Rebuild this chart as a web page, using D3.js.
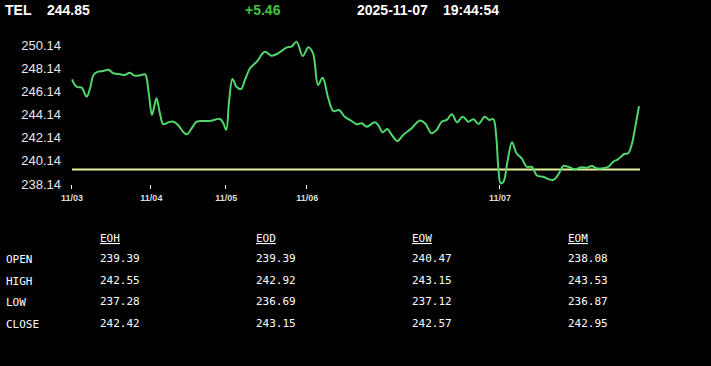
<!DOCTYPE html>
<html>
<head>
<meta charset="utf-8">
<script src="https://cdn.jsdelivr.net/npm/d3@7"></script>
<style>
  html, body { margin: 0; padding: 0; background: #000; }
  svg { display: block; }
</style>
</head>
<body>
<svg width="711" height="366"></svg>
<script>
// header
const symbol = 'TEL';
const last = '244.85';
const change = '+5.46';
const stamp = ['2025-11-07', '19:44:54'];

// price line: t is session position (0..100), v is price
const t = [0, 0.8, 1.7, 2.6, 3.2, 3.8, 4.6, 5.5, 6.4, 7.3, 8.5, 9.3, 10.2, 11.1, 12.3, 12.9, 13.5, 14.1, 14.5, 14.9,
  15.5, 16.1, 17.0, 17.9, 18.7, 19.8, 20.3, 21.1, 22.0, 23.2, 24.3, 26.1, 26.7, 27.2, 27.7, 28.3, 29.0, 29.8, 30.5, 31.4,
  32.6, 34.0, 35.2, 36.4, 37.9, 38.7, 39.6, 40.7, 41.7, 42.5, 43.4, 44.2, 45.2, 46.1, 47.1, 48.1, 49.3, 50.2, 51.1, 52.0,
  53.4, 54.0, 54.8, 55.6, 56.4, 57.4, 58.4, 59.9, 61.3, 62.3, 63.4, 64.3, 65.2, 66.1, 67.0, 67.9, 68.9, 69.9, 70.8, 71.7,
  72.8, 73.6, 74.3, 74.8, 75.2, 75.6, 76.1, 76.8, 77.6, 78.4, 79.3, 80.2, 81.1, 82.0, 83.1, 84.0, 84.9, 85.8, 86.6, 87.5,
  88.7, 89.9, 90.8, 91.7, 92.5, 93.7, 94.6, 95.5, 96.3, 97.4, 98.1, 98.7, 99.3, 100];
const v = [247.18, 246.54, 246.46, 245.68, 246.43, 247.55, 247.84, 247.90, 248.01, 247.70, 247.61, 247.55, 247.75, 247.49, 247.55, 247.61, 246.11, 244.10, 244.82, 245.54,
  244.25, 243.30, 243.47, 243.52, 243.23, 242.54, 242.43, 242.95, 243.52, 243.58, 243.58, 243.75, 243.38, 242.80, 245.25, 247.21, 246.54, 246.34, 247.12, 248.13,
  248.70, 249.56, 249.22, 249.43, 249.94, 250.00, 250.43, 249.19, 249.94, 249.43, 246.69, 247.32, 245.54, 244.44, 244.53, 243.95, 243.58, 243.30, 243.38, 243.09,
  243.47, 243.23, 242.60, 242.89, 242.37, 241.85, 242.37, 242.95, 243.61, 243.36, 242.52, 242.80, 243.52, 243.67, 244.16, 243.47, 243.95, 243.52, 243.73, 243.32,
  243.95, 243.67, 243.75, 242.37, 239.50, 238.20, 238.34, 240.07, 241.74, 240.79, 240.36, 239.63, 239.61, 238.87, 238.77, 238.57, 238.49, 238.98, 239.69, 239.63,
  239.41, 239.58, 239.55, 239.69, 239.50, 239.50, 239.63, 240.07, 240.27, 240.73, 240.79, 241.51, 242.95, 244.85];

const prevClose = 239.39;
const yTicks = [238.14, 240.14, 242.14, 244.14, 246.14, 248.14, 250.14];
const dayTicks = [0, 14, 27.2, 41.5, 75.5];
const dayLabels = ['11/03', '11/04', '11/05', '11/06', '11/07'];

// summary table
const periods = ['EOH', 'EOD', 'EOW', 'EOM'];
const fields = ['OPEN', 'HIGH', 'LOW', 'CLOSE'];
const openVals = ['239.39', '239.39', '240.47', '238.08'];
const highVals = ['242.55', '242.92', '243.15', '243.53'];
const lowVals = ['237.28', '236.69', '237.12', '236.87'];
const closeVals = ['242.42', '243.15', '242.57', '242.95'];

const svg = d3.select('svg');

const x = d3.scaleLinear().domain([0, 100]).range([72, 639]);
const y = d3.scaleLinear().domain([238.14, 250.14]).range([184, 45]);

// header line
const head = svg.append('g').attr('font-family', 'Liberation Sans, Arial, sans-serif')
  .attr('font-weight', 'bold').attr('font-size', 14);
head.append('text').attr('x', 5).attr('y', 15).attr('fill', '#fff').text(symbol);
head.append('text').attr('x', 47).attr('y', 15).attr('fill', '#fff').text(last);
head.append('text').attr('x', 245).attr('y', 15).attr('fill', '#3fc23f').text(change);
head.append('text').attr('x', 357).attr('y', 15).attr('fill', '#fff').text(stamp[0]);
head.append('text').attr('x', 443).attr('y', 15).attr('fill', '#fff').text(stamp[1]);

// y labels
svg.append('g').selectAll('text').data(yTicks).enter().append('text')
  .attr('x', 61).attr('y', d => y(d))
  .attr('dy', '0.35em')
  .attr('text-anchor', 'end')
  .attr('font-family', 'Liberation Sans, Arial, sans-serif')
  .attr('font-size', 13)
  .attr('fill', '#e8e8e8')
  .text(d => d.toFixed(2));

// x ticks
const xa = svg.append('g');
xa.selectAll('line').data(dayTicks).enter().append('line')
  .attr('x1', d => Math.round(x(d)) - 0.5).attr('x2', d => Math.round(x(d)) - 0.5)
  .attr('y1', 185).attr('y2', 189)
  .attr('stroke', '#fff').attr('stroke-width', 1);
xa.selectAll('text').data(dayTicks).enter().append('text')
  .attr('x', d => x(d)).attr('y', 201)
  .attr('text-anchor', 'middle')
  .attr('font-family', 'Liberation Sans, Arial, sans-serif')
  .attr('font-weight', 'bold')
  .attr('font-size', 9)
  .attr('fill', '#ddd')
  .text((d, i) => dayLabels[i]);

// previous close line
svg.append('line')
  .attr('x1', x(0)).attr('x2', x(100) + 1)
  .attr('y1', y(prevClose)).attr('y2', y(prevClose))
  .attr('stroke', '#e4f29a').attr('stroke-width', 2);

// price line
const line = d3.line()
  .x((d, i) => x(t[i]))
  .y(d => y(d))
  .curve(d3.curveCatmullRom.alpha(0.5));
svg.append('path').datum(v)
  .attr('d', line)
  .attr('fill', 'none')
  .attr('stroke', '#52d66c')
  .attr('stroke-width', 2);

// table
const tbl = svg.append('g').attr('font-family', 'DejaVu Sans Mono, monospace')
  .attr('font-size', 11).attr('fill', '#fff');
const colX = d3.scalePoint().domain(periods).range([100, 568]);
const rowY = d3.scalePoint().domain(fields).range([263, 328]);
const rows = [openVals, highVals, lowVals, closeVals];

tbl.selectAll('text.hd').data(periods).enter().append('text')
  .attr('class', 'hd')
  .attr('x', d => colX(d)).attr('y', 242)
  .attr('text-decoration', 'underline')
  .text(d => d);
tbl.selectAll('text.lb').data(fields).enter().append('text')
  .attr('class', 'lb')
  .attr('x', 6).attr('y', d => rowY(d))
  .text(d => d);
fields.forEach((f, r) => {
  tbl.selectAll('text.r' + r).data(rows[r]).enter().append('text')
    .attr('class', 'r' + r)
    .attr('x', (d, i) => colX(periods[i])).attr('y', rowY(f) - 1)
    .text(d => d);
});
</script>
</body>
</html>
